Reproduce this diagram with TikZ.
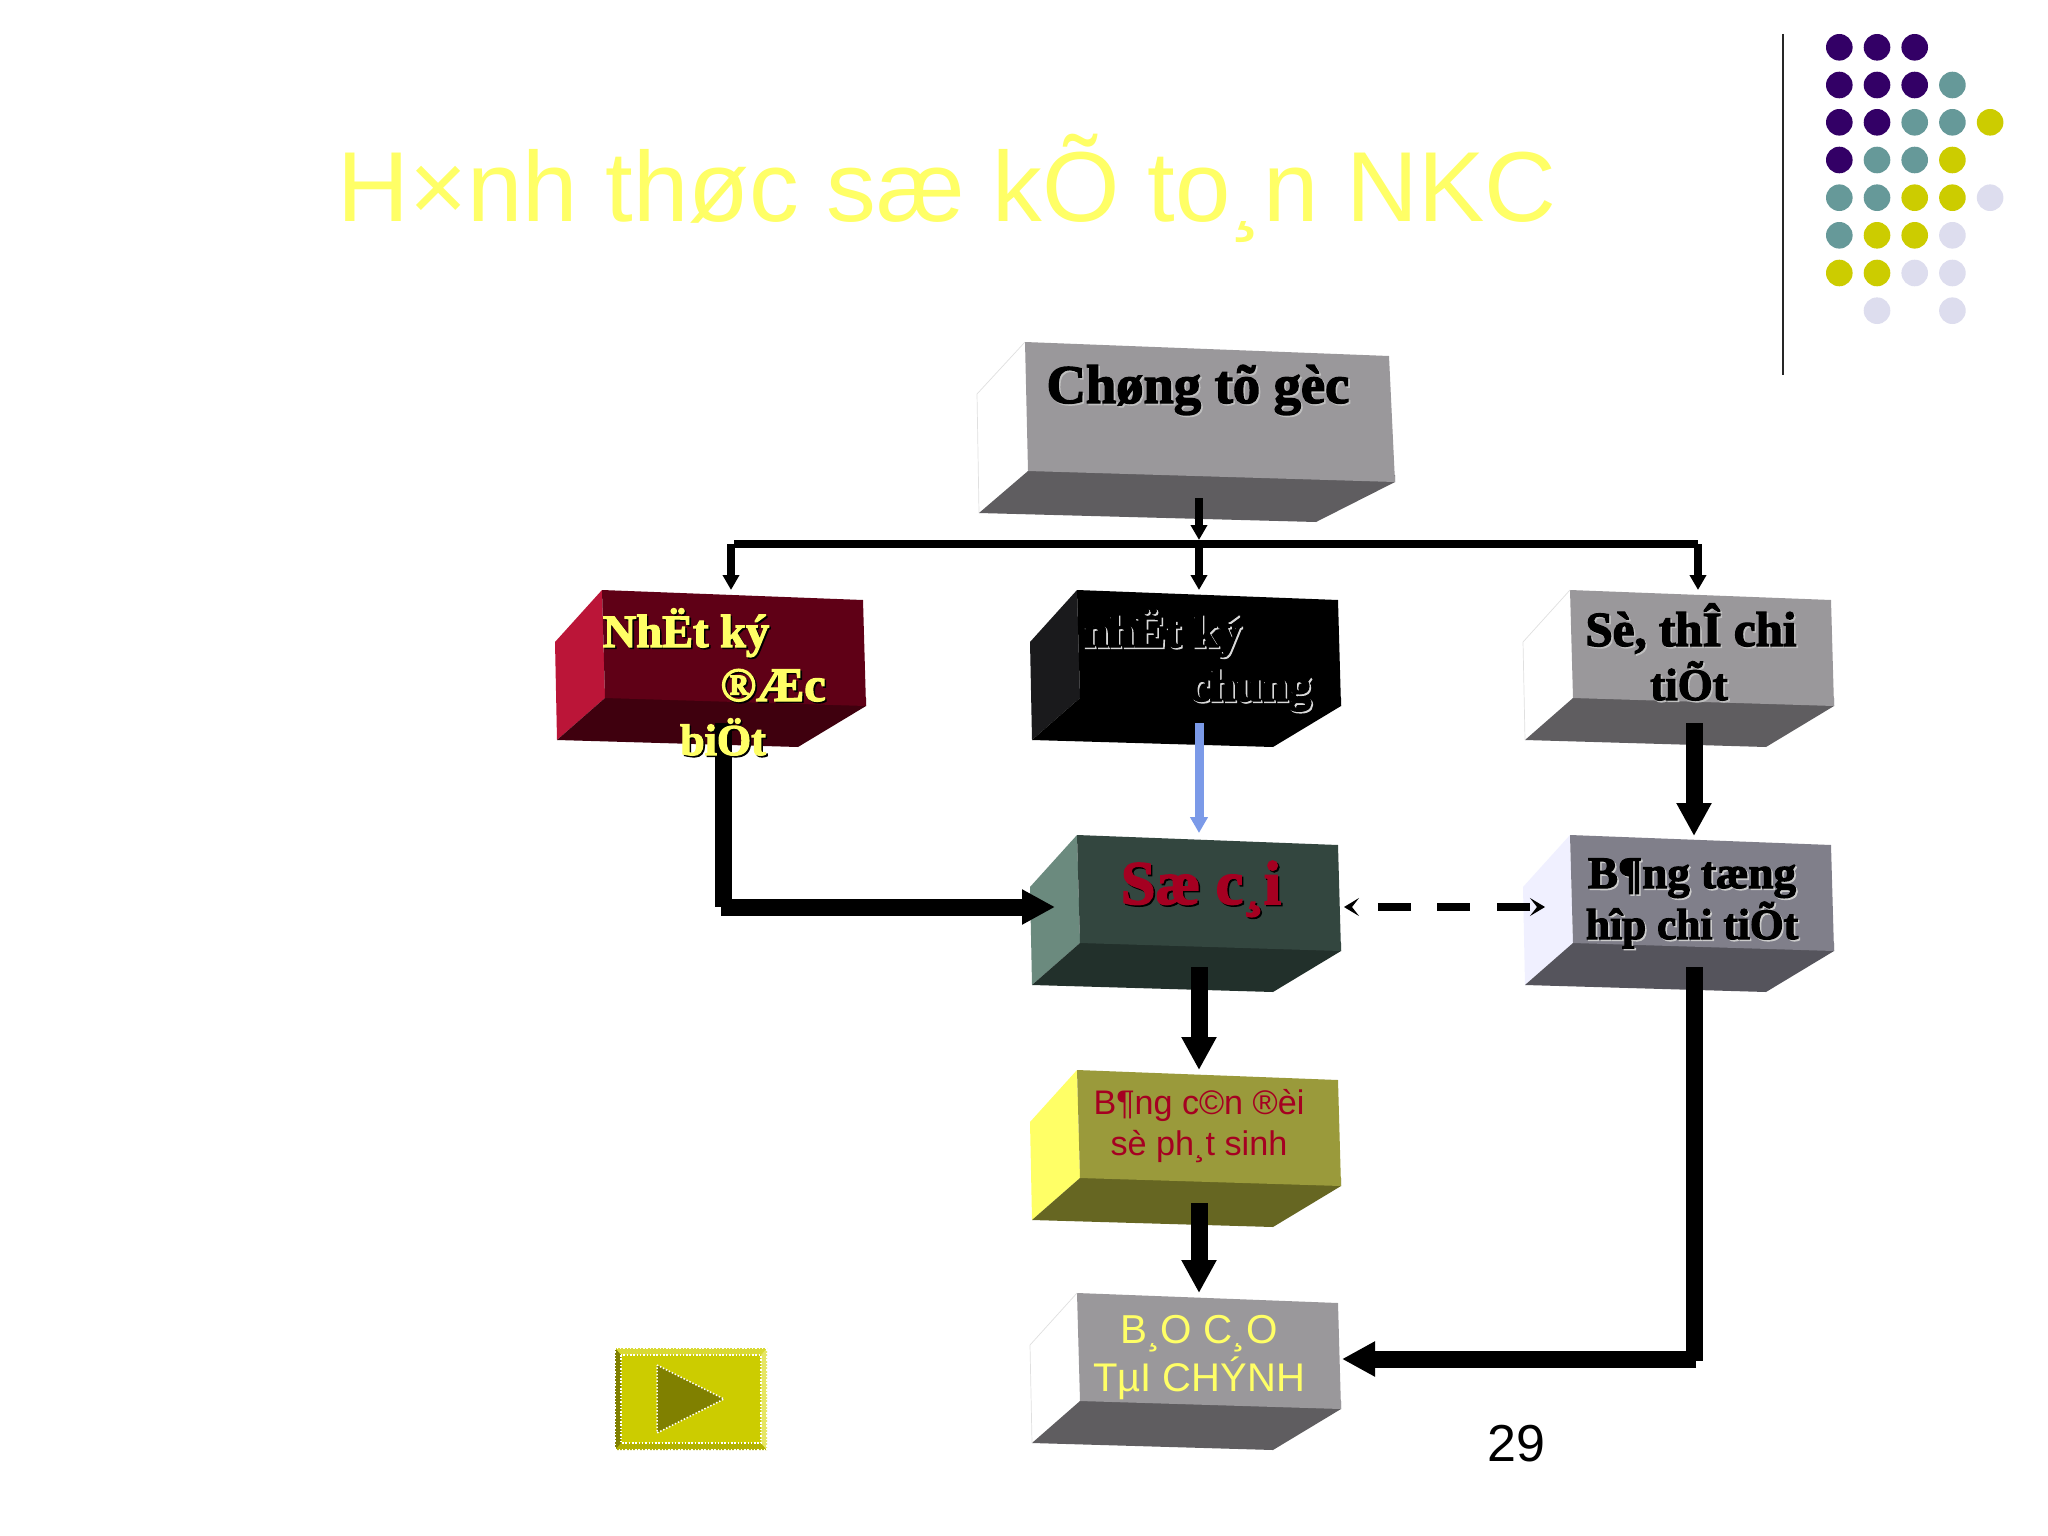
\documentclass[tikz,border=0pt]{standalone}
\usepackage{fontspec}
\usetikzlibrary{arrows.meta}
\setmainfont{Liberation Sans}
\newfontfamily\fatface[BoldFeatures={FakeBold=2.6}]{Liberation Serif}
\definecolor{boxgray}{HTML}{9A989B}
\definecolor{boxgrayd}{HTML}{5F5D60}
\definecolor{wine}{HTML}{5F0016}
\definecolor{winel}{HTML}{BB1538}
\definecolor{wined}{HTML}{3F000E}
\definecolor{blackl}{HTML}{1A1A1C}
\definecolor{sgreen}{HTML}{33463F}
\definecolor{sgreenl}{HTML}{6B8A7E}
\definecolor{sgreend}{HTML}{22302B}
\definecolor{slate}{HTML}{807F8A}
\definecolor{slatel}{HTML}{F0F0FF}
\definecolor{slated}{HTML}{55545C}
\definecolor{olive}{HTML}{9A9A3B}
\definecolor{olived}{HTML}{666622}
\definecolor{lemon}{HTML}{FFFF66}
\definecolor{crimson}{HTML}{A50021}
\definecolor{dotp}{HTML}{330066}
\definecolor{dott}{HTML}{669999}
\definecolor{doty}{HTML}{CCCC00}
\definecolor{dotl}{HTML}{DDDDEE}
\definecolor{bluearrow}{HTML}{7B9AE8}
\definecolor{btntop}{HTML}{D9D933}
\definecolor{btnbot}{HTML}{B3B300}
\definecolor{btnleft}{HTML}{808000}
\definecolor{btnright}{HTML}{E6E666}
\newcommand{\shadowed}[2]{\makebox[0pt][l]{\hspace{1.6pt}\raisebox{-1.6pt}{\color{#1}#2}}#2}
\newcommand{\fatsize}[1]{\fontsize{#1}{#1}\bfseries\fatface}
\newcommand{\sanssize}[1]{\fontsize{#1}{#1}\selectfont}
\tikzset{
  x=1pt,y=-1pt,
  thickarrow/.style={line width=17pt,draw=black,-{Triangle[length=33pt,width=33pt]}},
  thickline/.style={line width=17pt,draw=black},
  thinarrow/.style={line width=8pt,draw=black,-{Triangle[length=15pt,width=16pt]}},
  thinline/.style={line width=8pt,draw=black},
  bluearrowstyle/.style={line width=9pt,draw=bluearrow,-{Triangle[length=16pt,width=17pt]}},
  dashedarrow/.style={line width=8pt,draw=black,dash pattern=on 33pt off 26.5pt,dash phase=33pt,
     {Stealth[length=15pt,width=18pt,inset=7pt]}-{Stealth[length=15pt,width=18pt,inset=7pt]}},
  lbl/.style={inner sep=0pt,outer sep=0pt,anchor=base},
  dotstyle/.style={circle,minimum size=26.6pt,inner sep=0pt,outer sep=0pt},
  beads/.style={white,line width=1.5pt,dash pattern=on 1.5pt off 1.8pt},
}
% #1 x, #2 y, #3 front, #4 left, #5 bottom
\newcommand{\smallcube}[5]{%
  \fill[#4] (#1,#2) -- (#1-47,#2+52) -- (#1-45,#2+150) -- (#1+3,#2+108) -- cycle;
  \fill[#5] (#1+3,#2+100) -- (#1+3,#2+108) -- (#1-45,#2+150) -- (#1+196,#2+157) -- (#1+264,#2+116) -- (#1+264,#2+108) -- cycle;
  \fill[#3] (#1,#2) -- (#1+261,#2+10) -- (#1+264,#2+116) -- (#1+3,#2+108) -- cycle;
}
\newcommand{\ghostleft}[2]{%
  \draw[black!12,line width=0.7pt] (#1,#2) -- (#1-47,#2+52) -- (#1-45,#2+150);
}
\begin{document}
\begin{tikzpicture}
\useasboundingbox (0,0) rectangle (2048,1536);
\fill[white] (0,0) rectangle (2048,1536);

% title
\node[lbl,text=lemon] (title) at (947,221) {\sanssize{99.5}H×nh thøc sæ kÕ to¸n NKC};

% rule and dots
\coordinate (ruletop) at (1783,34);
\coordinate (rulebot) at (1783,375);
\draw[line width=2pt,draw=black!85] (ruletop) -- (rulebot);
\foreach \r/\cx/\col in {47.3/0/dotp,47.3/1/dotp,47.3/2/dotp,
  85/0/dotp,85/1/dotp,85/2/dotp,85/3/dott,
  122.3/0/dotp,122.3/1/dotp,122.3/2/dott,122.3/3/dott,122.3/4/doty,
  160/0/dotp,160/1/dott,160/2/dott,160/3/doty,
  197.7/0/dott,197.7/1/dott,197.7/2/doty,197.7/3/doty,197.7/4/dotl,
  235.3/0/dott,235.3/1/doty,235.3/2/doty,235.3/3/dotl,
  273/0/doty,273/1/doty,273/2/dotl,273/3/dotl,
  310.7/1/dotl,310.7/3/dotl}
  \node[dotstyle,fill=\col] at ({1839.3+37.7*\cx},\r) {};

% top box
\fill[white] (1025,342) -- (977,394) -- (979,513) -- (1028,471) -- cycle;
\draw[black!12,line width=0.7pt] (1025,342) -- (977,394) -- (979,513);
\fill[boxgrayd] (1028,465) -- (1028,471) -- (979,513) -- (1316,522) -- (1395,482) -- (1395,475) -- cycle;
\fill[boxgray] (1025,342) -- (1389,356) -- (1395,482) -- (1028,471) -- cycle;

% small boxes
\smallcube{602}{590}{wine}{winel}{wined}
\smallcube{1077}{590}{black}{blackl}{black}
\smallcube{1570}{590}{boxgray}{white}{boxgrayd}\ghostleft{1570}{590}
\smallcube{1077}{835}{sgreen}{sgreenl}{sgreend}
\smallcube{1570}{835}{slate}{slatel}{slated}
\smallcube{1077}{1070}{olive}{lemon}{olived}
\smallcube{1077}{1293}{boxgray}{white}{boxgrayd}\ghostleft{1077}{1293}

% connector points
\coordinate (gocout) at (1199,498);
\coordinate (gocbus) at (1199,540);
\coordinate (busL) at (731,544);
\coordinate (busW) at (734,544);
\coordinate (busR) at (1698,544);
\coordinate (busM) at (1199,544);
\coordinate (redin) at (731,590);
\coordinate (blackin) at (1199,590);
\coordinate (sethein) at (1698,590);
\coordinate (redout) at (723,723);
\coordinate (redelbow) at (723,907);
\coordinate (redrun) at (721,907);
\coordinate (socaiwest) at (1055,907);
\coordinate (blackout) at (1199,723);
\coordinate (socaitop) at (1199,833);
\coordinate (setheout) at (1694,723);
\coordinate (tonghoptop) at (1694,836);
\coordinate (socaiE) at (1344,907);
\coordinate (tonghopW) at (1545,907);
\coordinate (socaiout) at (1199,967);
\coordinate (bcdtop) at (1199,1070);
\coordinate (bcdout) at (1199,1203);
\coordinate (bctop) at (1199,1293);
\coordinate (thout) at (1694,967);
\coordinate (thelbow) at (1694,1361);
\coordinate (thrun) at (1696,1359);
\coordinate (bcE) at (1342,1359);

\draw[thinarrow] (gocout) -- (gocbus);
\draw[thinline] (busW) -- (busR);
\draw[thinarrow] (busL) -- (redin);
\draw[thinarrow] (busM) -- (blackin);
\draw[thinarrow] (busR) -- (sethein);
\draw[thickline] (redout) -- (redelbow);
\draw[thickarrow] (redrun) -- (socaiwest);
\draw[bluearrowstyle] (blackout) -- (socaitop);
\draw[thickarrow] (setheout) -- (tonghoptop);
\draw[dashedarrow] (socaiE) -- (tonghopW);
\draw[thickarrow] (socaiout) -- (bcdtop);
\draw[thickarrow] (bcdout) -- (bctop);
\draw[thickline] (thout) -- (thelbow);
\draw[thickarrow] (thrun) -- (bcE);

% labels
\node[lbl,text=black] (goc) at (1198,403) {\fatsize{54.5}\shadowed{white!75!black}{Chøng tõ gèc}};
\node[lbl,text=lemon] (red1) at (686,647) {\fatsize{46.4}\shadowed{black}{NhËt ký}};
\node[lbl,text=lemon] (red2) at (773,701) {\fatsize{48}\shadowed{black}{®Æc}};
\node[lbl,text=lemon] (red3) at (723,755) {\fatsize{44}\shadowed{black}{biÖt}};
\node[lbl,text=black] (blk1) at (1162,647) {\fatsize{46.5}\shadowed{white!85!black}{nhËt ký}};
\node[lbl,text=black] (blk2) at (1250,701) {\fatsize{47}\shadowed{white!85!black}{chung}};
\node[lbl,text=black] (sth1) at (1691,646) {\fatsize{49}\shadowed{white!75!black}{Sè, thÎ chi}};
\node[lbl,text=black] (sth2) at (1689,700) {\fatsize{45}\shadowed{white!75!black}{tiÕt}};
\node[lbl,text=crimson] (sc) at (1201,904) {\fatsize{62}\shadowed{black}{Sæ c¸i}};
\node[lbl,text=black] (th1) at (1692,888) {\fatsize{45}\shadowed{white!80!black}{B¶ng tæng}};
\node[lbl,text=black] (th2) at (1692,939) {\fatsize{43.4}\shadowed{white!80!black}{hîp chi tiÕt}};
\node[lbl,text=crimson] (bcd1) at (1199,1114) {\sanssize{34.1}B¶ng c©n ®èi};
\node[lbl,text=crimson] (bcd2) at (1199,1155) {\sanssize{34.2}sè ph¸t sinh};
\node[lbl,text=lemon] (bc1) at (1199,1343) {\sanssize{40.4}B¸O C¸O};
\node[lbl,text=lemon] (bc2) at (1199,1391) {\sanssize{40}TµI CHÝNH};
\node[lbl,text=black] (page) at (1516,1461) {\sanssize{52}29};

% action button
\fill[doty] (615,1348) rectangle (767,1450);
\fill[btntop] (615,1348) -- (767,1348) -- (761,1355) -- (621,1355) -- cycle;
\fill[btnbot] (615,1450) -- (767,1450) -- (761,1443) -- (621,1443) -- cycle;
\fill[btnleft] (615,1348) -- (621,1355) -- (621,1443) -- (615,1450) -- cycle;
\fill[btnright] (767,1348) -- (761,1355) -- (761,1443) -- (767,1450) -- cycle;
\draw[beads] (615,1348) rectangle (767,1450);
\draw[beads] (621,1355) rectangle (761,1443);
\fill[btnleft] (657,1365) -- (724,1399) -- (657,1433) -- cycle;
\draw[beads] (657,1365) -- (724,1399) -- (657,1433) -- cycle;
\end{tikzpicture}
\end{document}
